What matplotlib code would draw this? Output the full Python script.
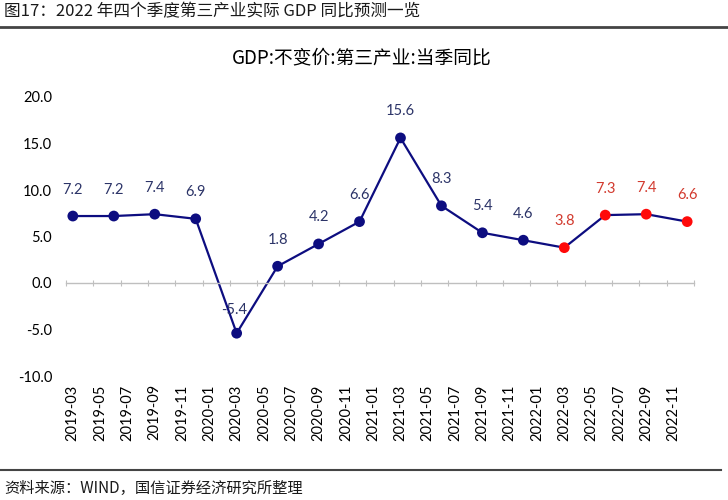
import matplotlib
matplotlib.use("Agg")
import matplotlib.pyplot as plt
import numpy as np

plt.rcParams['font.family'] = ['Lato', 'Noto Sans CJK SC', 'DejaVu Sans']

# --- data ---
months = [f"{y}-{m:02d}" for y in range(2019, 2023) for m in range(1, 13)][2:]  # 2019-03 .. 2022-12
point_months = ["2019-03", "2019-06", "2019-09", "2019-12",
                "2020-03", "2020-06", "2020-09", "2020-12",
                "2021-03", "2021-06", "2021-09", "2021-12",
                "2022-03", "2022-06", "2022-09", "2022-12"]
values = [7.2, 7.2, 7.4, 6.9,
          -5.4, 1.8, 4.2, 6.6,
          15.6, 8.3, 5.4, 4.6,
          3.8, 7.3, 7.4, 6.6]
is_forecast = [False]*12 + [True]*4
tick_labels = months[::2]

header = "图17：2022 年四个季度第三产业实际 GDP 同比预测一览"
chart_title = "GDP:不变价:第三产业:当季同比"
source = "资料来源：WIND，国信证券经济研究所整理"

navy = "#0d0d80"
red = "#ff0a0a"
lab_navy = "#2c3468"
lab_red = "#d23a2e"

fig = plt.figure(figsize=(7.28, 5.0), dpi=100)
ax = fig.add_axes([66/728, 1-376/500, (694-66)/728, (376-97)/500])

xpos = np.array([months.index(m) for m in point_months])
vals = np.array(values)
ax.plot(xpos, vals, color=navy, lw=1.6, zorder=2)
colors = [red if f else navy for f in is_forecast]
ax.scatter(xpos, vals, s=60, c=colors, zorder=3, edgecolors='none')
for x, v, f in zip(xpos, vals, is_forecast):
    ax.annotate(f"{v:.1f}", (x, v), xytext=(-2 if v < 0 else 0, 14 if v >= 0 else 12),
                textcoords='offset points', ha='center', va='bottom', fontsize=10.5,
                color=lab_red if f else lab_navy)

ax.set_xlim(-0.5, len(months) - 0.5)
ax.set_ylim(-10, 20)
ax.set_yticks(np.arange(-10, 21, 5))
ax.set_yticklabels([f"{t:.1f}" for t in np.arange(-10, 21, 5)], fontsize=10.5)
ax.tick_params(axis='y', length=0, pad=10)

for s in ['top', 'right', 'left']:
    ax.spines[s].set_visible(False)
ax.spines['bottom'].set_position(('data', 0))
ax.spines['bottom'].set_color('#bfbfbf')
ax.spines['bottom'].set_linewidth(1.0)
ax.set_xticks(np.arange(-0.5, len(months), 2))
ax.set_xticklabels([])
ax.tick_params(axis='x', length=5, color='#bfbfbf', direction='inout')

sec = ax.secondary_xaxis('bottom')
sec.set_xticks(np.arange(0, len(months), 2))
sec.set_xticklabels(tick_labels, rotation=90, fontsize=10.5)
sec.tick_params(length=0, pad=6)
sec.spines['bottom'].set_visible(False)

fig.text(362/728, 1-58/500, chart_title, ha='center', va='center', fontsize=13.5,
         family=['Noto Sans CJK SC', 'DejaVu Sans'])
fig.text(4/728, 1-12/500, header, ha='left', va='center', fontsize=12,
         family=['Noto Sans CJK SC', 'DejaVu Sans'], color='#1a1a1a')
fig.text(4/728, 1-488/500, source, ha='left', va='center', fontsize=11,
         family=['Noto Sans CJK SC', 'DejaVu Sans'], color='#1a1a1a')
fig.add_artist(plt.Line2D([0, 1], [1-27/500, 1-27/500], color='#444444', lw=2, transform=fig.transFigure))
fig.add_artist(plt.Line2D([0, 0.99], [1-470/500, 1-470/500], color='#444444', lw=1.5, transform=fig.transFigure))

fig.savefig("out.png", dpi=100)
